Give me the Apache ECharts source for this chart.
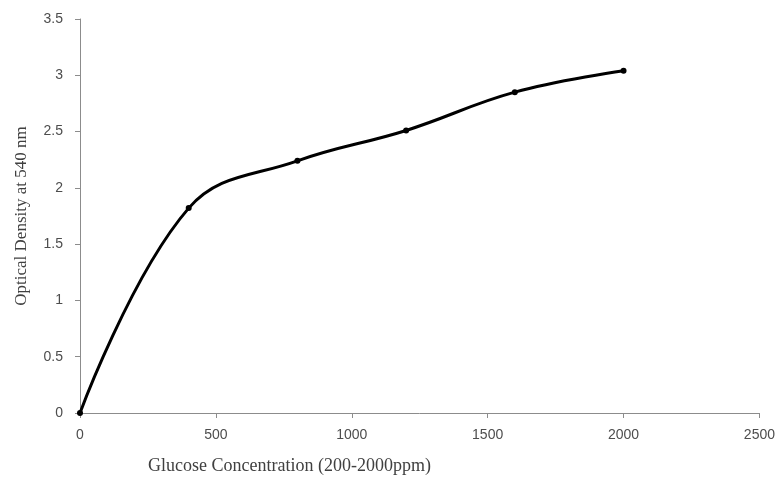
<!DOCTYPE html>
<html>
<head>
<meta charset="utf-8">
<script src="https://cdn.jsdelivr.net/npm/echarts@6/dist/echarts.min.js"></script>
<style>html,body{margin:0;padding:0;background:#fff}#c{width:778px;height:483px}</style>
</head>
<body>
<div id="c"></div>
<script>
var concentrations = [0, 400, 800, 1200, 1600, 2000];
var opticalDensity = [0, 1.82, 2.24, 2.51, 2.85, 3.04];
var xTitle = 'Glucose Concentration (200-2000ppm)';
var yTitle = 'Optical Density at 540 nm';

var chart = echarts.init(document.getElementById('c'));
var data = concentrations.map(function (x, i) { return [x, opticalDensity[i]]; });
chart.setOption({
  animation: false,
  grid: { left: 80, right: 16, top: 19, bottom: 70, containLabel: false },
  xAxis: {
    type: 'value', min: 0, max: 2500, interval: 500,
    axisLine: { show: true, lineStyle: { color: '#8c8c8c', width: 1 } },
    axisTick: { show: true, length: 5, lineStyle: { color: '#8c8c8c' } },
    axisLabel: { color: '#4d4d4d', fontFamily: 'Liberation Sans', fontSize: 14, margin: 15,
      formatter: function (v) { return String(v); } },
    splitLine: { show: false }
  },
  yAxis: {
    type: 'value', min: 0, max: 3.5, interval: 0.5,
    name: yTitle, nameLocation: 'middle', nameGap: 50,
    nameTextStyle: { color: '#404040', fontFamily: 'Liberation Serif', fontSize: 17 },
    axisLine: { show: true, lineStyle: { color: '#8c8c8c', width: 1 } },
    axisTick: { show: true, length: 5, lineStyle: { color: '#8c8c8c' } },
    axisLabel: { color: '#4d4d4d', fontFamily: 'Liberation Sans', fontSize: 14, margin: 17,
      formatter: function (v) { return String(v); } },
    splitLine: { show: false }
  },
  graphic: [{
    type: 'text', left: 148, top: 457,
    style: { text: xTitle, fill: '#404040', font: '18px "Liberation Serif"' }
  }],
  series: [{
    type: 'line', data: data, smooth: 0.4,
    symbol: 'circle', symbolSize: 6,
    lineStyle: { color: '#000', width: 3 },
    itemStyle: { color: '#000' }
  }]
});
</script>
</body>
</html>
